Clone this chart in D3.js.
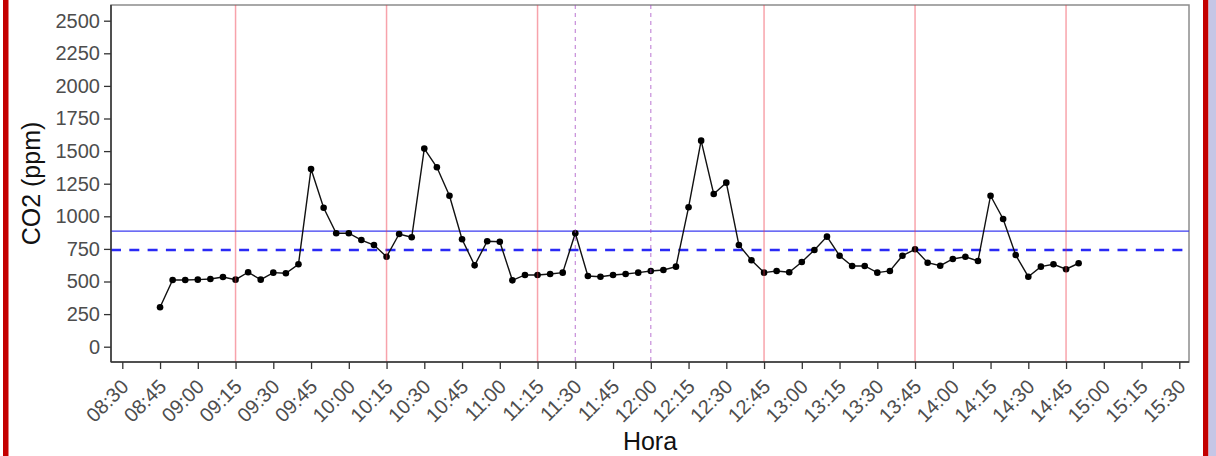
<!DOCTYPE html>
<html>
<head>
<meta charset="utf-8">
<script src="https://cdn.jsdelivr.net/npm/d3@7"></script>
<style>
  body { margin: 0; background: #fff; }
  svg { display: block; font-family: "Liberation Sans", Arial, sans-serif; }
</style>
</head>
<body>
<div id="chart"></div>
<script>
const horas = [
  "08:45", "08:50", "08:55", "09:00", "09:05", "09:10", "09:15", "09:20", "09:25", "09:30",
  "09:35", "09:40", "09:45", "09:50", "09:55", "10:00", "10:05", "10:10", "10:15", "10:20",
  "10:25", "10:30", "10:35", "10:40", "10:45", "10:50", "10:55", "11:00", "11:05", "11:10",
  "11:15", "11:20", "11:25", "11:30", "11:35", "11:40", "11:45", "11:50", "11:55", "12:00",
  "12:05", "12:10", "12:15", "12:20", "12:25", "12:30", "12:35", "12:40", "12:45", "12:50",
  "12:55", "13:00", "13:05", "13:10", "13:15", "13:20", "13:25", "13:30", "13:35", "13:40",
  "13:45", "13:50", "13:55", "14:00", "14:05", "14:10", "14:15", "14:20", "14:25", "14:30",
  "14:35", "14:40", "14:45", "14:50"
];
const co2 = [
  302, 511, 511, 514, 519, 534, 514, 571, 514, 568,
  563, 632, 1363, 1066, 870, 870, 818, 780, 690, 864,
  839, 1519, 1376, 1158, 824, 624, 809, 805, 509, 550,
  550, 558, 568, 870, 542, 537, 550, 558, 568, 581,
  588, 614, 1069, 1580, 1171, 1258, 780, 663, 568, 581,
  571, 650, 742, 844, 698, 619, 619, 568, 581, 698,
  747, 644, 621, 673, 690, 657, 1158, 979, 703, 537,
  614, 632, 594, 640
];
const xTicks = [
  "08:30", "08:45", "09:00", "09:15", "09:30", "09:45", "10:00", "10:15", "10:30", "10:45",
  "11:00", "11:15", "11:30", "11:45", "12:00", "12:15", "12:30", "12:45", "13:00", "13:15",
  "13:30", "13:45", "14:00", "14:15", "14:30", "14:45", "15:00", "15:15", "15:30"
];
const yTicks = [0, 250, 500, 750, 1000, 1250, 1500, 1750, 2000, 2250, 2500];
const cambiosClase = ["09:15", "10:15", "11:15", "12:45", "13:45", "14:45"];
const recreos = ["11:30", "12:00"];
const limiteSolido = 887;
const mediaDiscontinua = 742;

const width = 1216, height = 456;
const panel = { left: 111, right: 1189, top: 5, bottom: 362 };

const parseHora = d3.timeParse("%H:%M");
const fmtHora = d3.timeFormat("%H:%M");

const datos = horas.map((h, i) => ({ t: parseHora(h), v: co2[i] }));

const x = d3.scaleTime()
  .domain([parseHora("08:30"), parseHora("15:30")])
  .range([122.3, 1179.3]);
const y = d3.scaleLinear()
  .domain([0, 2500])
  .range([346.7, 20.7]);

const svg = d3.select("#chart").append("svg")
  .attr("width", width)
  .attr("height", height);

// fondo del panel
svg.append("rect")
  .attr("x", panel.left).attr("y", panel.top)
  .attr("width", panel.right - panel.left)
  .attr("height", panel.bottom - panel.top)
  .attr("fill", "#fff")
  .attr("stroke", "#8c8c8c")
  .attr("stroke-width", 1.5);

// lineas horizontales
svg.append("line")
  .attr("x1", panel.left).attr("x2", panel.right)
  .attr("y1", y(limiteSolido)).attr("y2", y(limiteSolido))
  .attr("stroke", "#3b3bf0").attr("stroke-width", 1.3);
svg.append("line")
  .attr("x1", panel.left).attr("x2", panel.right)
  .attr("y1", y(mediaDiscontinua)).attr("y2", y(mediaDiscontinua))
  .attr("stroke", "#2a2af5").attr("stroke-width", 2.5)
  .attr("stroke-dasharray", "10,8.3");

// serie
const line = d3.line().x(d => x(d.t)).y(d => y(d.v));
svg.append("path")
  .datum(datos)
  .attr("d", line)
  .attr("fill", "none")
  .attr("stroke", "#111")
  .attr("stroke-width", 1.4);
svg.selectAll(".pt")
  .data(datos)
  .enter()
  .append("circle")
  .attr("class", "pt")
  .attr("cx", d => x(d.t))
  .attr("cy", d => y(d.v))
  .attr("r", 3.3)
  .attr("fill", "#000");

// lineas verticales (encima de los puntos)
svg.selectAll(".cambio")
  .data(cambiosClase)
  .enter()
  .append("line")
  .attr("class", "cambio")
  .attr("x1", d => x(parseHora(d))).attr("x2", d => x(parseHora(d)))
  .attr("y1", panel.top).attr("y2", panel.bottom)
  .attr("stroke", "#ee3344").attr("stroke-opacity", 0.45)
  .attr("stroke-width", 1.5);
svg.selectAll(".recreo")
  .data(recreos)
  .enter()
  .append("line")
  .attr("class", "recreo")
  .attr("x1", d => x(parseHora(d))).attr("x2", d => x(parseHora(d)))
  .attr("y1", panel.top).attr("y2", panel.bottom)
  .attr("stroke", "#a040c0").attr("stroke-opacity", 0.6)
  .attr("stroke-width", 1.2)
  .attr("stroke-dasharray", "4,4");

// ejes
const yAxis = svg.append("g")
  .attr("transform", `translate(${panel.left},0)`)
  .call(d3.axisLeft(y).tickValues(yTicks).tickFormat(d3.format("d")).tickSize(7).tickPadding(4));
yAxis.select(".domain").remove();
yAxis.selectAll(".tick line").attr("stroke", "#333").attr("stroke-width", 1.3);
yAxis.selectAll(".tick text")
  .attr("fill", "#4d4d4d")
  .style("font-size", "20px");

const xAxis = svg.append("g")
  .attr("transform", `translate(0,${panel.bottom})`)
  .call(d3.axisBottom(x).tickValues(xTicks.map(parseHora)).tickFormat(fmtHora).tickSize(7));
xAxis.select(".domain").remove();
xAxis.selectAll(".tick line").attr("stroke", "#333").attr("stroke-width", 1.3);
xAxis.selectAll(".tick text")
  .attr("fill", "#4d4d4d")
  .style("font-size", "20px")
  .attr("text-anchor", "end")
  .attr("y", 0)
  .attr("dy", 0)
  .attr("transform", "translate(7,26) rotate(-45)");

// lineas de eje
svg.append("line")
  .attr("x1", panel.left).attr("x2", panel.left)
  .attr("y1", panel.top).attr("y2", panel.bottom)
  .attr("stroke", "#333").attr("stroke-width", 1.5);
svg.append("line")
  .attr("x1", panel.left).attr("x2", panel.right)
  .attr("y1", panel.bottom).attr("y2", panel.bottom)
  .attr("stroke", "#333").attr("stroke-width", 1.5);

// titulos
svg.append("text")
  .attr("x", (panel.left + panel.right) / 2)
  .attr("y", 450)
  .attr("text-anchor", "middle")
  .style("font-size", "25px")
  .attr("fill", "#111")
  .text("Hora");
svg.append("text")
  .attr("transform", `translate(40,${(panel.top + panel.bottom) / 2}) rotate(-90)`)
  .attr("text-anchor", "middle")
  .style("font-size", "25px")
  .attr("fill", "#111")
  .text("CO2 (ppm)");

// marco de la diapositiva
svg.append("rect").attr("x", 3).attr("y", 0).attr("width", 5.5).attr("height", height).attr("fill", "#c40000");
svg.append("rect").attr("x", 1203).attr("y", 0).attr("width", 5.5).attr("height", height).attr("fill", "#c40000");
svg.append("rect").attr("x", 1208.5).attr("y", 0).attr("width", 7.5).attr("height", height).attr("fill", "#c6c6e6");
</script>
</body>
</html>
